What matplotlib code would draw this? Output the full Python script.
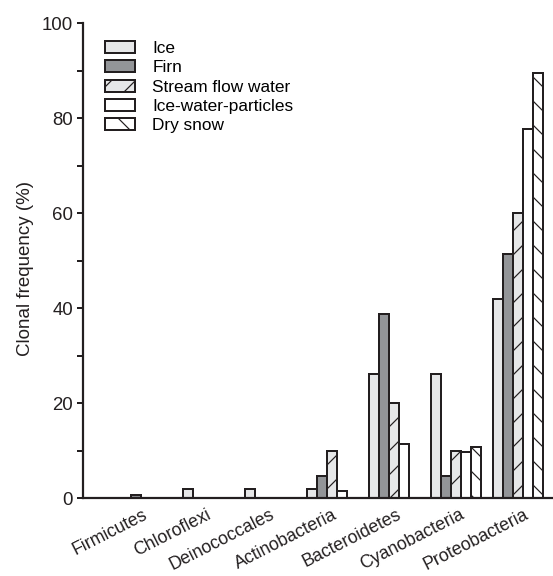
import matplotlib
matplotlib.use("Agg")
import matplotlib.pyplot as plt
import numpy as np

categories = ["Firmicutes", "Chloroflexi", "Deinococcales", "Actinobacteria",
              "Bacteroidetes", "Cyanobacteria", "Proteobacteria"]
series_names = ["Ice", "Firn", "Stream flow water", "Ice-water-particles", "Dry snow"]
ice = [0, 2.0, 2.0, 2.0, 26.2, 26.2, 42.0]
firn = [0.7, 0, 0, 4.7, 38.7, 4.7, 51.4]
stream = [0, 0, 0, 10.0, 20.0, 10.0, 60.1]
iwp = [0, 0, 0, 1.6, 11.4, 9.7, 77.7]
dry_snow = [0, 0, 0, 0, 0, 10.7, 89.6]
yticks = [0, 20, 40, 60, 80, 100]

plt.rcParams['font.family'] = ['Liberation Sans', 'DejaVu Sans']
plt.rcParams['hatch.linewidth'] = 1.2

DPI = 72
fig = plt.figure(figsize=(553 / DPI, 576 / DPI), dpi=DPI)
ax = fig.add_axes([83 / 553, 77.7 / 576, 470 / 553, 475 / 576])

edge = '#231f20'
styles = [
    dict(color='#e6e7e8', hatch=None),
    dict(color='#939598', hatch=None),
    dict(color='#e6e7e8', hatch='/'),
    dict(color='#ffffff', hatch=None),
    dict(color='#ffffff', hatch='\\'),
]
data = [ice, firn, stream, iwp, dry_snow]
x = np.arange(len(categories))
w = 0.161
for j, (vals, st, name) in enumerate(zip(data, styles, series_names)):
    ax.bar(x + (j - 2) * w, vals, width=w, facecolor=st['color'], edgecolor=edge,
           linewidth=2.0, hatch=st['hatch'], label=name, zorder=2)

ax.set_xlim(-1.016, 6.565)
ax.set_ylim(0, 100)
ax.set_yticks(yticks)
ax.set_yticks([10, 30, 50, 70, 90], minor=True)
ax.tick_params(axis='y', which='both', direction='out', length=6, width=2,
               color=edge, labelsize=18.6, pad=4, labelcolor='#231f20')
ax.set_xticks(x + (2 + 1.5 * x) / 62.0)
ax.set_xticklabels(categories, rotation=27, ha='right', va='baseline',
                   rotation_mode='anchor', fontsize=17.7, color='#231f20')
ax.tick_params(axis='x', length=0, pad=19.5)
for s in ['top', 'right']:
    ax.spines[s].set_visible(False)
for s in ['left', 'bottom']:
    ax.spines[s].set_linewidth(2.2)
    ax.spines[s].set_color(edge)
    ax.spines[s].set_zorder(3)
ax.set_ylabel("Clonal frequency (%)", fontsize=18.8, color='#231f20')
ax.yaxis.set_label_coords(-0.104, 0.483)

ax.legend(loc='upper left', bbox_to_anchor=(0.047, 0.963), frameon=False, fontsize=17.2,
          handlelength=1.74, handleheight=0.7, handletextpad=1.0, labelspacing=0.25,
          borderaxespad=0, borderpad=0)

fig.savefig("out.png", dpi=DPI)
